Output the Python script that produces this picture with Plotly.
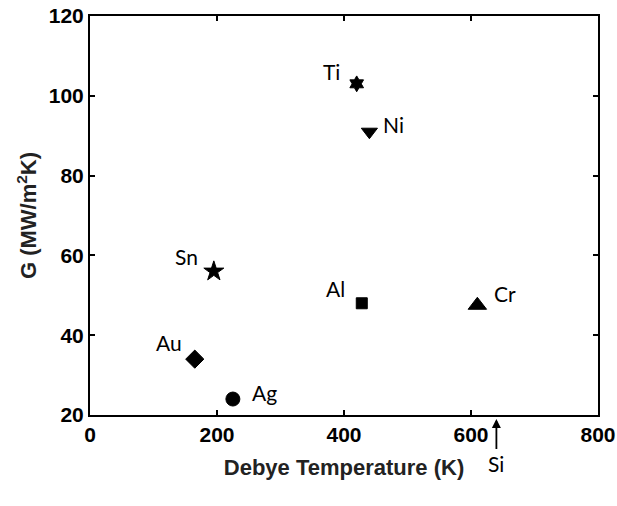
import plotly.graph_objects as go

elements = ["Ti", "Ni", "Sn", "Al", "Cr", "Au", "Ag"]
debye_T = [420, 440, 195, 428, 610, 165, 225]
G_vals = [103, 91, 56, 48, 47.5, 34, 24]
symbols = ["hexagram", "triangle-down", "star", "square", "triangle-up", "diamond", "circle"]
sizes = [12, 14, 15, 11, 16, 14, 14]
# label pixel offsets (dx, dy) relative to marker
label_dx = [-25, 24, -27, -26, 28, -26, 32]
label_dy = [12, 7, 15, 15, 12, 17, 7]

si_T = 640
x_ticks = [0, 200, 400, 600, 800]
y_ticks = [20, 40, 60, 80, 100, 120]

fig = go.Figure()
fig.add_trace(go.Scatter(
    x=debye_T, y=G_vals, mode="markers",
    marker=dict(symbol=symbols, size=sizes, color="#000000", opacity=1,
                line=dict(color="#000000", width=1)),
    showlegend=False, cliponaxis=False,
))

for el, xv, yv, dx, dy in zip(elements, debye_T, G_vals, label_dx, label_dy):
    fig.add_annotation(x=xv, y=yv, text=el, showarrow=False,
                       xshift=dx, yshift=dy,
                       font=dict(family="Lato", size=21, color="black"))

fig.add_annotation(x=si_T, y=20, text="Si", showarrow=True,
                   ax=0, ay=48, arrowhead=2, arrowsize=1, arrowwidth=1.8,
                   arrowcolor="black", standoff=4,
                   font=dict(family="Lato", size=21, color="black"))

axis_common = dict(showline=True, linecolor="black", linewidth=2, mirror="ticks",
                   ticks="inside", ticklen=5, tickwidth=1.5, tickcolor="black",
                   showgrid=False, zeroline=False, automargin=False,
                   tickfont=dict(family="Liberation Sans", size=21, color="black"))

fig.update_xaxes(range=[0, 800], tickvals=x_ticks, **axis_common,
                 title=dict(text="<b>Debye Temperature (K)</b>", standoff=14,
                            font=dict(family="Liberation Sans", size=22, color="#222")))
fig.update_yaxes(range=[20, 120], tickvals=y_ticks, **axis_common,
                 title=dict(text="<b>G (MW/m<sup>2</sup>K)</b>", standoff=6,
                            font=dict(family="Liberation Sans", size=22, color="#222")))
fig.update_xaxes(ticktext=["<b>%d</b>" % v for v in x_ticks])
fig.update_yaxes(ticktext=["<b>%d</b>" % v for v in y_ticks])

fig.update_layout(width=617, height=506,
                  margin=dict(l=90, r=19, t=16, b=91),
                  plot_bgcolor="white", paper_bgcolor="white")

fig.write_html("out.html")
